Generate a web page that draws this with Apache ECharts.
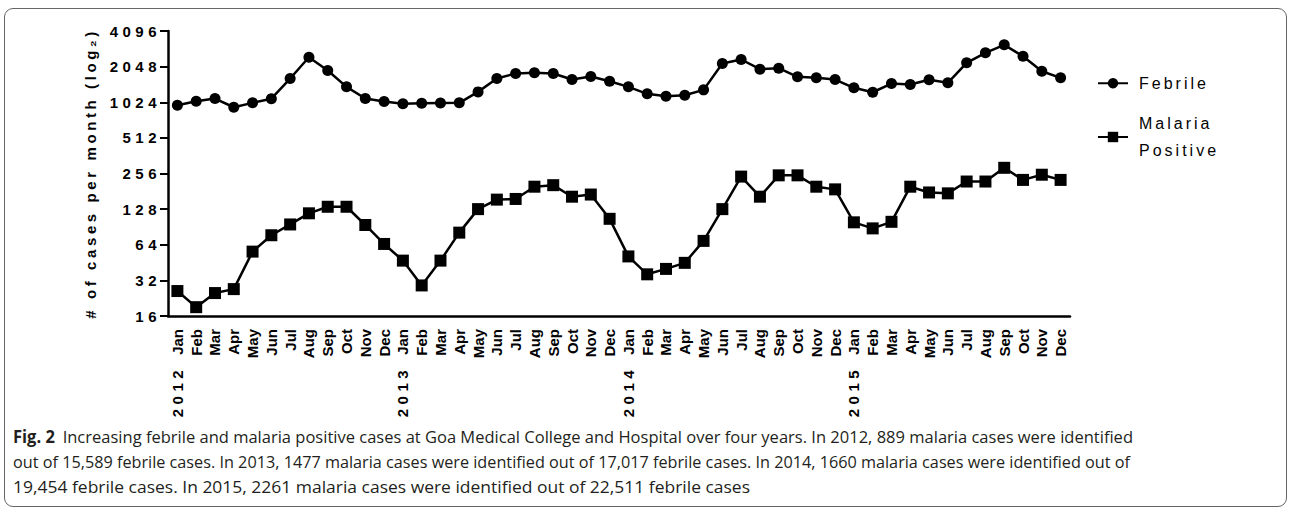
<!DOCTYPE html>
<html>
<head>
<meta charset="utf-8">
<script src="https://cdn.jsdelivr.net/npm/echarts@6/dist/echarts.min.js"></script>
<style>
  html, body { margin: 0; padding: 0; background: #fff; }
  #wrap { position: relative; width: 1290px; height: 511px; overflow: hidden; }
  #chart { position: absolute; left: 0; top: 0; width: 1290px; height: 511px; }
  #frame { position: absolute; left: 4px; top: 8px; width: 1281px; height: 497px;
           border: 1.5px solid #666; border-radius: 9px; pointer-events: none; }
  #caption { position: absolute; left: 13px; top: 424px; font-family: "Open Sans", sans-serif;
             font-size: 17px; line-height: 25px; color: #231f20; white-space: nowrap; }
  #caption div { transform-origin: 0 50%; width: max-content; }
  #caption b { font-weight: 700; margin-right: 8px; }
  #chart text[fill="#010101"] { letter-spacing: 4.5px; }
  #chart text[fill="#030303"] { letter-spacing: 3px; }
  #chart text[fill="#040404"] { letter-spacing: 3.6px; }
</style>
</head>
<body>
<div id="wrap">
  <div id="chart"></div>
  <div id="frame"></div>
  <div id="caption">
    <div data-w="1120"><b>Fig. 2</b>Increasing febrile and malaria positive cases at Goa Medical College and Hospital over four years. In 2012, 889 malaria cases were identified</div>
    <div data-w="1117">out of 15,589 febrile cases. In 2013, 1477 malaria cases were identified out of 17,017 febrile cases. In 2014, 1660 malaria cases were identified out of</div>
    <div data-w="737">19,454 febrile cases. In 2015, 2261 malaria cases were identified out of 22,511 febrile cases</div>
  </div>
</div>
<script>
// ---- data ----
const years = ['2012', '2013', '2014', '2015'];
const months = ['Jan', 'Feb', 'Mar', 'Apr', 'May', 'Jun', 'Jul', 'Aug', 'Sep', 'Oct', 'Nov', 'Dec'];
const yTicks = [16, 32, 64, 128, 256, 512, 1024, 2048, 4096];
const febrile = [
  966, 1044, 1101, 929, 1012, 1098, 1624, 2460, 1898, 1382, 1101, 1040,
  993, 1004, 1010, 1012, 1253, 1624, 1791, 1815, 1791, 1593, 1689, 1541,
  1382, 1206, 1151, 1173, 1303, 2176, 2352, 1948, 1986, 1679, 1647, 1593,
  1356, 1244, 1474, 1445, 1584, 1494, 2206, 2677, 3129, 2506, 1872, 1647
];
const malaria = [
  26, 19, 25, 27, 56, 77, 95, 118, 134, 134, 94, 65,
  47, 29, 47, 81, 128, 154, 156, 198, 204, 163, 170, 106,
  51, 36, 40, 45, 69, 128, 241, 163, 247, 247, 198, 188,
  99, 88, 100, 198, 177, 174, 219, 219, 286, 226, 250, 226
];
const categories = [];
years.forEach(y => months.forEach(m => categories.push(y + ' ' + m)));

// ---- chart ----
const chart = echarts.init(document.getElementById('chart'), null, { renderer: 'svg' });
const axisFont = '"Liberation Sans", Arial, sans-serif';
chart.setOption({
  animation: false,
  grid: { left: 168, right: 220, top: 31, bottom: 195 },
  legend: {
    orient: 'vertical',
    left: 1092,
    top: 65,
    itemWidth: 30,
    itemHeight: 13,
    itemGap: 14,
    selectedMode: false,
    formatter: n => n === 'Malaria Positive' ? 'Malaria\nPositive' : n,
    textStyle: { fontFamily: axisFont, fontSize: 16, lineHeight: 26.5, color: '#030303', padding: [0, 0, 0, 6] },
    data: ['Febrile', 'Malaria Positive']
  },
  xAxis: {
    type: 'category',
    data: categories,
    boundaryGap: true,
    axisLine: { lineStyle: { color: '#000', width: 2.5 } },
    axisTick: { alignWithLabel: true, length: 9, lineStyle: { color: '#000', width: 2 } },
    axisLabel: {
      interval: 0,
      rotate: 90,
      margin: 13,
      fontFamily: axisFont,
      fontWeight: 'bold',
      fontSize: 15,
      color: '#000',
      formatter: (v, i) => {
        const m = months[i % 12];
        return i % 12 === 0 ? '{y|' + years[i / 12] + '}' + m : m;
      },
      rich: {
        y: { fontFamily: axisFont, fontWeight: 'bold', fontSize: 15, color: '#010101', padding: [0, 11, 0, 0] }
      }
    },
    splitLine: { show: false }
  },
  yAxis: {
    type: 'log',
    logBase: 2,
    min: yTicks[0],
    max: yTicks[yTicks.length - 1],
    splitNumber: yTicks.length - 1,
    name: '# of cases per month (log\u2082)',
    nameLocation: 'middle',
    nameGap: 70,
    nameRotate: 90,
    nameTextStyle: { fontFamily: axisFont, fontWeight: 'bold', fontSize: 15, color: '#040404' },
    axisLine: { show: true, lineStyle: { color: '#000', width: 2.5 } },
    axisTick: { show: true, length: 8, lineStyle: { color: '#000', width: 2 } },
    axisLabel: {
      margin: 7,
      fontFamily: axisFont,
      fontWeight: 'bold',
      fontSize: 15,
      color: '#010101',
      formatter: v => String(Math.round(v))
    },
    splitLine: { show: false }
  },
  series: [
    {
      name: 'Febrile', type: 'line', data: febrile,
      symbol: 'circle', symbolSize: 11,
      itemStyle: { color: '#000' }, lineStyle: { color: '#000', width: 2.5 }
    },
    {
      name: 'Malaria Positive', type: 'line', data: malaria,
      symbol: 'rect', symbolSize: 12,
      itemStyle: { color: '#000' }, lineStyle: { color: '#000', width: 2.5 }
    }
  ]
});

// fit each caption line to its width in the reference layout
document.querySelectorAll('#caption div').forEach(l => {
  const w = l.getBoundingClientRect().width;
  l.style.transform = 'scaleX(' + (Number(l.dataset.w) / w) + ')';
});
</script>
</body>
</html>
